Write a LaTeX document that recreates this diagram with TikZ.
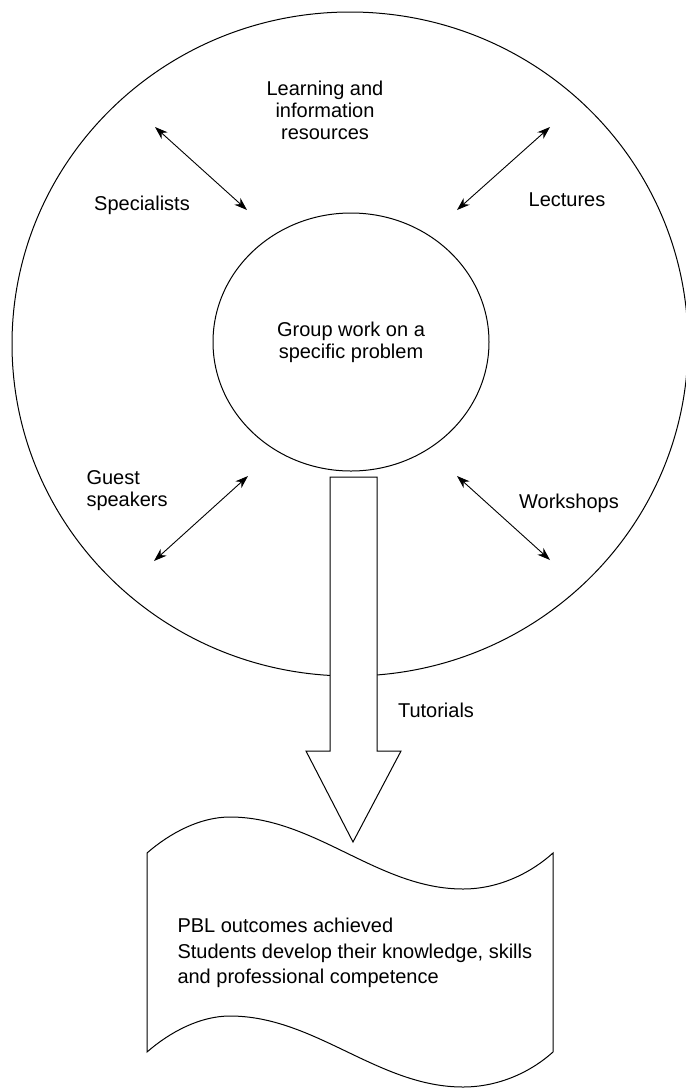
\documentclass[tikz,border=0pt]{standalone}
\usepackage{fontspec}
\setmainfont{Liberation Sans}
\usepackage{tikz}
\usetikzlibrary{shapes,arrows,positioning,calc,arrows.meta}

\begin{document}
\begin{tikzpicture}[x=1pt,y=-1pt,line width=1pt,
    lbl/.style={inner sep=0pt,font=\fontsize{20}{22}\selectfont,align=center},
    twoway/.style={{Stealth[length=13pt,width=9pt]}-{Stealth[length=13pt,width=9pt]},line width=0.9pt}]
  \path[fill=white] (0,0) rectangle (686,1088);
  \useasboundingbox (0,0) rectangle (686,1088);
  % the two circles
  \node[draw,ellipse,minimum width=676pt,minimum height=664pt,inner sep=0pt] (outer) at (350,344) {};
  \node[draw,ellipse,minimum width=276pt,minimum height=258pt,inner sep=0pt,
        font=\fontsize{20}{22}\selectfont,align=center] (group) at (351,342) {Group work on a\\specific problem};
  % labels round the group
  \node[lbl] (resources) at (325,110) {Learning and\\information\\resources};
  \node[lbl] (specialists) at (142,205) {Specialists};
  \node[lbl] (lectures) at (567,200) {Lectures};
  \node[lbl,anchor=west,align=left] (guests) at (86,491) {Guest\\speakers};
  \node[lbl] (workshops) at (569,503) {Workshops};
  \node[lbl] (tutorials) at (436,710) {Tutorials};
  % two way arrows
  \coordinate (specA) at (155,127);
  \coordinate (specB) at (247,210);
  \coordinate (lectA) at (550,127);
  \coordinate (lectB) at (457,210);
  \coordinate (guestA) at (248,476);
  \coordinate (guestB) at (154,561);
  \coordinate (workA) at (457,476);
  \coordinate (workB) at (550,560);
  \draw[twoway] (specA) -- (specB);
  \draw[twoway] (lectA) -- (lectB);
  \draw[twoway] (guestA) -- (guestB);
  \draw[twoway] (workA) -- (workB);
  % big arrow down to the outcomes
  \draw[fill=white] (330,477) -- (377,477) -- (377,751) -- (401,751) -- (353,842)
    -- (306,751) -- (330,751) -- cycle;
  % wavy document
  \draw (147,853) .. controls (170,833) and (200,817) .. (230,817)
    .. controls (315,817) and (378,889) .. (463,889)
    .. controls (500,889) and (532,872) .. (553,853) -- (553,1052)
    .. controls (532,1071) and (500,1087) .. (463,1087)
    .. controls (378,1087) and (315,1016) .. (230,1016)
    .. controls (200,1016) and (170,1032) .. (147,1052) -- cycle;
  \node[lbl,anchor=west,align=left,font=\fontsize{20}{25.5}\selectfont] (outcomes) at (177,953)
    {PBL outcomes achieved\\Students develop their knowledge, skills\\and professional competence};
\end{tikzpicture}
\end{document}
